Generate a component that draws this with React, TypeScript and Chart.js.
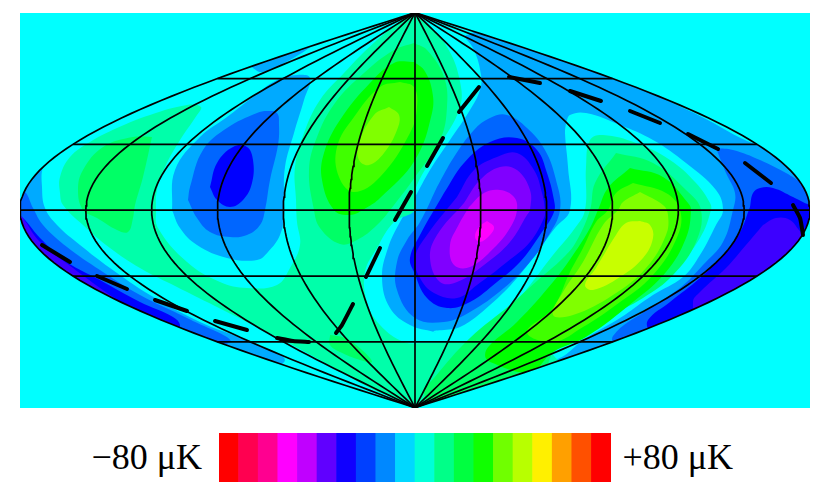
import React, { useEffect, useRef } from "react";
import { Chart, registerables } from "chart.js";

Chart.register(...registerables);

type P = [number, number];

// Contours are listed in sky-map plane units (x 20..810, y 13..408).
const coldBand1Main: P[] = [[464,36],[474,50],[481,75],[480,90],[470,110],[450,140],[430,170],[415,197],[400,222],[388,248],[382,278],[390,308],[410,325],[434,332],[500,352],[553,362],[600,365],[700,330],[830,270],[830,190],[700,100],[500,25]];
const coldBand1West: P[] = [[172,210],[175,170],[200,137],[227,117],[253,97],[277,80],[297,75],[310,78],[304,100],[294,133],[285,167],[284,200],[284,215],[280,235],[268,252],[257,260],[227,258],[197,245],[180,228]];
const coldBand1Sliver: P[] = [[250,66],[277,58],[312,45],[290,60],[262,72]];
const coldBand1Tip: P[] = [[51,158],[43,167],[42,187],[45,208],[57,225],[80,245],[110,268],[150,295],[200,322],[240,338],[285,360],[240,372],[100,340],[0,250],[0,160]];
const neutralIsland: P[] = [[566,123],[570,115],[586,113],[620,125],[653,140],[686,163],[716,190],[723,210],[716,225],[700,255],[683,277],[653,295],[620,318],[586,338],[553,360],[500,352],[434,332],[460,327],[490,305],[517,278],[540,248],[555,228],[570,210],[568,167],[565,133]];
const neutralSliver: P[] = [[658,96],[700,116],[755,144],[765,140],[700,100]];

const coldBand2Main: P[] = [[437,187],[454,157],[474,130],[490,118],[507,115],[527,128],[545,150],[556,180],[560,210],[547,238],[530,262],[504,288],[470,312],[444,322],[415,318],[397,290],[397,262],[407,240],[420,222]];
const coldBand2West: P[] = [[188,200],[190,187],[203,150],[227,128],[257,113],[267,111],[277,113],[279,125],[278,145],[270,180],[265,210],[260,225],[247,235],[230,237],[210,232],[197,218]];
const coldBand2Tip: P[] = [[20,197],[25,192],[33,208],[43,225],[67,247],[100,270],[140,295],[187,318],[230,342],[150,345],[0,260],[0,197]];
const coldBand2East: P[] = [[716,148],[733,150],[760,160],[786,173],[803,183],[830,195],[830,300],[700,340],[620,350],[613,336],[650,308],[680,288],[703,265],[723,242],[733,210],[735,193],[726,173]];

const coldBand3Main: P[] = [[444,193],[464,163],[490,142],[517,138],[537,150],[547,173],[554,200],[554,212],[540,235],[520,262],[497,282],[470,302],[447,308],[427,298],[414,272],[410,258],[420,235]];
const coldBand3West: P[] = [[210,187],[217,163],[233,147],[247,147],[253,160],[252,183],[243,200],[230,207],[217,200]];
const coldBand3Tip: P[] = [[18,215],[25,220],[40,238],[67,262],[100,280],[140,302],[173,317],[180,325],[175,332],[100,325],[0,240]];
const coldBand3East: P[] = [[750,207],[753,193],[760,188],[773,188],[793,197],[810,205],[830,210],[830,300],[700,340],[650,330],[648,320],[670,302],[700,278],[723,255],[740,232]];

const coldBand4Main: P[] = [[457,197],[474,170],[497,157],[517,153],[534,170],[542,193],[545,210],[544,218],[530,242],[507,262],[477,285],[457,298],[434,293],[420,278],[415,258],[427,235]];
const coldBand4Tip: P[] = [[20,215],[23,218],[40,242],[73,268],[100,288],[120,302],[127,308],[80,305],[10,240]];
const coldBand4East: P[] = [[763,225],[776,218],[790,220],[801,232],[815,240],[800,300],[700,325],[693,302],[700,292],[726,268],[746,245]];

const coldBand5: P[] = [[464,203],[480,180],[500,167],[517,170],[530,190],[530,210],[527,215],[510,242],[484,265],[457,282],[440,282],[430,258],[437,235]];
const coldBand6: P[] = [[469,207],[484,193],[500,190],[514,197],[517,210],[510,228],[494,248],[470,267],[454,265],[450,245],[458,226]];
const coldBand7: P[] = [[487,221],[494,227],[490,235],[480,242],[475,237],[479,227]];

const warmBand1: P[] = [[416,15],[427,23],[447,47],[459,77],[460,107],[437,150],[415,190],[415,210],[394,222],[377,248],[365,272],[367,302],[380,325],[404,342],[424,343],[450,342],[480,338],[503,318],[530,285],[553,255],[575,228],[585,210],[586,167],[590,140],[603,135],[636,143],[670,160],[696,183],[710,203],[711,210],[700,238],[676,268],[646,288],[616,308],[580,333],[553,352],[565,370],[470,412],[415,412],[410,405],[370,388],[320,360],[277,337],[233,315],[207,302],[177,287],[140,268],[110,248],[83,225],[63,205],[60,193],[60,177],[70,157],[90,142],[117,128],[150,115],[187,105],[201,107],[197,115],[180,140],[165,167],[157,190],[156,210],[158,228],[187,262],[220,282],[247,288],[277,285],[290,268],[300,245],[297,222],[296,200],[295,167],[304,133],[320,100],[344,73],[377,40],[410,15]];

const warmBand2West: P[] = [[152,137],[133,137],[103,147],[83,170],[78,190],[83,210],[97,218],[117,230],[128,232],[133,218],[135,205],[143,177]];
const warmBand2North: P[] = [[414,43],[394,50],[364,73],[335,103],[317,137],[309,170],[314,210],[320,228],[340,244],[357,240],[377,225],[394,205],[415,177],[440,140],[447,107],[444,77],[427,50]];
const warmBand2East: P[] = [[616,153],[595,183],[590,210],[576,242],[563,258],[538,280],[510,305],[470,338],[434,378],[424,393],[440,415],[540,378],[553,353],[573,338],[606,318],[643,298],[673,275],[696,242],[701,210],[686,190],[653,163]];
const warmBand2South: P[] = [[330,335],[345,338],[362,350],[372,362],[360,360],[340,352],[330,345]];

const warmBand3North: P[] = [[414,62],[394,63],[370,83],[340,120],[324,153],[322,180],[334,210],[350,215],[366,208],[380,198],[415,160],[432,113],[432,90],[424,70]];
const warmBand3East: P[] = [[630,168],[608,188],[598,210],[590,228],[573,255],[553,282],[517,322],[490,345],[485,355],[490,362],[530,372],[553,352],[586,337],[633,302],[666,272],[686,238],[691,210],[688,203],[663,177]];

const warmBand4North: P[] = [[400,82],[380,87],[354,117],[337,147],[339,177],[354,192],[380,177],[410,133],[417,107],[414,87]];
const warmBand4East: P[] = [[633,183],[616,193],[608,210],[596,222],[583,248],[570,272],[553,308],[527,332],[553,342],[583,327],[616,305],[653,275],[678,235],[680,210],[666,193]];

const warmBand5North: P[] = [[389,107],[374,115],[359,143],[359,160],[369,165],[384,153],[397,130],[399,115]];
const warmBand5East: P[] = [[640,192],[623,202],[618,210],[603,225],[583,262],[563,292],[553,315],[573,315],[613,295],[646,268],[666,235],[668,215],[663,205]];

const warmBand6: P[] = [[640,221],[650,225],[653,238],[643,258],[620,277],[593,290],[585,285],[596,268],[616,235],[626,223]];

// The plane's dashed great circle, one short run per dash.
const dashedCircle: P[][] = [
  [[42,245],[70,262]],
  [[97,276],[127,289]],
  [[155,300],[187,311]],
  [[215,321],[247,330]],
  [[277,338],[293,341],[309,342]],
  [[336,333],[342,325],[353,304]],
  [[366,277],[380,248]],
  [[395,220],[411,192]],
  [[427,166],[443,138]],
  [[459,112],[479,87]],
  [[509,77],[540,83]],
  [[570,91],[601,101]],
  [[630,111],[660,123]],
  [[688,134],[718,149]],
  [[745,163],[771,183]],
  [[793,205],[800,218],[803,235]],
];

const parallels = [-60, -30, 0, 30, 60];
const meridians = [-180, -150, -120, -90, -60, -30, 0, 30, 60, 90, 120, 150, 180];

const binLabels = ["-80","-72","-64","-56","-48","-40","-32","-24","-16","-8","0","8","16","24","32","40","48","56","64","72"];
const binHeights = [1,1,1,1,1,1,1,1,1,1,1,1,1,1,1,1,1,1,1,1];
const binColors = ["#ff0000","#ff0050","#ff0090","#ff00ff","#c000ff","#6000ff","#1000ff","#0040ff","#0088ff","#00d8ff","#00ffd8","#00ff88","#00ff40","#10ff00","#70ff00","#b8ff00","#fff000","#ffa000","#ff5000","#ff0000"];

const CX = 415, CY = 210.2, RX = 395, RY = 197.5;
const project = (lon: number, lat: number) => ({
  x: CX + (lon / 180) * RX * Math.cos((lat * Math.PI) / 180),
  y: CY - (lat / 90) * RY,
});
const latSteps: number[] = [];
for (let l = -90; l <= 90; l += 2) latSteps.push(l);

const closed = (pts: P[]) => [...pts, pts[0]].map(([x, y]) => ({ x, y }));

const layers: [P[], string][] = [
  [coldBand1Main, "#00aaff"], [coldBand1West, "#00aaff"], [coldBand1Sliver, "#00aaff"], [coldBand1Tip, "#00aaff"],
  [neutralIsland, "#00ffff"], [neutralSliver, "#00ffff"],
  [warmBand1, "#00ffaa"],
  [coldBand2Main, "#0066ff"], [coldBand2West, "#0066ff"], [coldBand2Tip, "#0066ff"], [coldBand2East, "#0066ff"],
  [coldBand3Main, "#0000ff"], [coldBand3West, "#0000ff"], [coldBand3Tip, "#0000ff"], [coldBand3East, "#0000ff"],
  [coldBand4Main, "#3c00ff"], [coldBand4Tip, "#3c00ff"], [coldBand4East, "#3c00ff"],
  [coldBand5, "#8000ff"], [coldBand6, "#c800ff"], [coldBand7, "#ff00ff"],
  [warmBand2West, "#00ff66"], [warmBand2North, "#00ff66"], [warmBand2East, "#00ff66"], [warmBand2South, "#00ff66"],
  [warmBand3North, "#00ff00"], [warmBand3East, "#00ff00"],
  [warmBand4North, "#40ff00"], [warmBand4East, "#40ff00"],
  [warmBand5North, "#80ff00"], [warmBand5East, "#80ff00"],
  [warmBand6, "#c8ff00"],
];

function buildDatasets() {
  const sets: any[] = layers.map(([pts, color]) => ({
    data: closed(pts), showLine: true, fill: "shape", backgroundColor: color,
    borderColor: "transparent", borderWidth: 0, tension: 0.4, pointRadius: 0,
  }));
  // Everything beyond the sky outline is painted back to the page's cyan.
  const west = latSteps.slice().reverse().map((l) => project(-180, l));
  const east = latSteps.map((l) => project(180, l));
  sets.push({
    data: [{x:20,y:13},{x:810,y:13},{x:810,y:408},{x:20,y:408},{x:20,y:13},...west,...east,{x:20,y:13}],
    showLine: true, fill: "shape", backgroundColor: "#00ffff", borderColor: "transparent", borderWidth: 0, tension: 0, pointRadius: 0,
  });
  const line = { showLine: true, fill: false, borderColor: "#000", borderWidth: 1.7, tension: 0, pointRadius: 0, clip: 3 };
  for (const lon of meridians) sets.push({ ...line, data: latSteps.map((l) => project(lon, l)) });
  for (const lat of parallels) sets.push({ ...line, data: [project(-180, lat), project(180, lat)] });
  const dashPts: { x: number; y: number }[] = [];
  for (const d of dashedCircle) {
    for (const [x, y] of d) dashPts.push({ x, y });
    dashPts.push({ x: NaN, y: NaN });
  }
  sets.push({
    data: dashPts, showLine: true, fill: false, borderColor: "#000", borderWidth: 4, borderCapStyle: "round",
    tension: 0.2, pointRadius: 0, spanGaps: false, clip: 3,
  });
  return sets.reverse();
}

export default function App() {
  const mapRef = useRef<HTMLCanvasElement>(null);
  const barRef = useRef<HTMLCanvasElement>(null);
  useEffect(() => {
    const map = new Chart(mapRef.current!, {
      type: "scatter",
      data: { datasets: buildDatasets() },
      options: {
        animation: false, responsive: false, maintainAspectRatio: false,
        layout: { padding: 0 },
        events: [],
        plugins: { legend: { display: false }, tooltip: { enabled: false } },
        scales: {
          x: { type: "linear", min: 20, max: 810, display: false },
          y: { type: "linear", min: 13, max: 408, reverse: true, display: false },
        },
      },
    } as any);
    const bar = new Chart(barRef.current!, {
      type: "bar",
      data: {
        labels: binLabels,
        datasets: [{ data: binHeights, backgroundColor: binColors, barPercentage: 1, categoryPercentage: 1, borderWidth: 0 }],
      },
      options: {
        animation: false, responsive: false, maintainAspectRatio: false,
        layout: { padding: 0 },
        events: [],
        plugins: { legend: { display: false }, tooltip: { enabled: false } },
        scales: { x: { display: false }, y: { display: false, min: 0, max: 1 } },
      },
    } as any);
    return () => { map.destroy(); bar.destroy(); };
  }, []);
  const label: React.CSSProperties = {
    position: "absolute", fontFamily: "'Liberation Serif', serif", fontSize: 36, lineHeight: "40px", top: 437, whiteSpace: "nowrap", color: "#000",
  };
  return (
    <div style={{ position: "absolute", left: 0, top: 0, width: 830, height: 499, background: "#fff", overflow: "hidden" }}>
      <canvas ref={mapRef} width={790} height={395} style={{ position: "absolute", left: 20, top: 13, width: 790, height: 395, background: "#00ffff" }} />
      <canvas ref={barRef} width={392} height={49} style={{ position: "absolute", left: 219, top: 433, width: 392, height: 49 }} />
      <div style={{ ...label, left: 91.5 }}>−80 μK</div>
      <div style={{ ...label, left: 622.5 }}>+80 μK</div>
    </div>
  );
}
